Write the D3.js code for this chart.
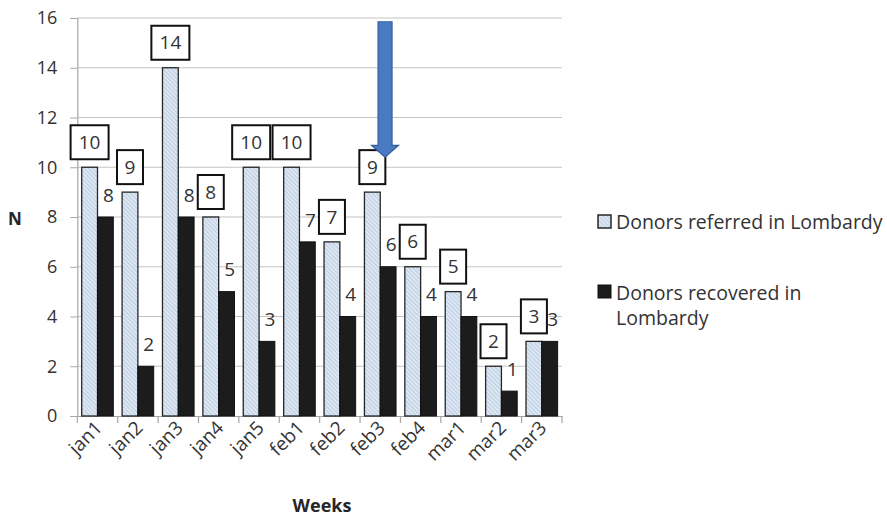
<!DOCTYPE html>
<html><head><meta charset="utf-8">
<script src="https://cdn.jsdelivr.net/npm/d3@7"></script>
<style>
html,body{margin:0;padding:0;background:#fff;}
svg{display:block;font-family:"Open Sans",sans-serif;}
</style></head>
<body>
<svg id="c" width="887" height="519"></svg>
<script>
const weeks = ["jan1","jan2","jan3","jan4","jan5","feb1","feb2","feb3","feb4","mar1","mar2","mar3"];
const referred = [10,9,14,8,10,10,7,9,6,5,2,3];
const recovered = [8,2,8,5,3,7,4,6,4,4,1,3];
const yTicks = [0,2,4,6,8,10,12,14,16];
const seriesNames = ["Donors referred in Lombardy","Donors recovered in Lombardy"];
const arrowWeek = "feb3", arrowTop = 15.85, arrowTip = 10.4;

const svg = d3.select("#c");
const defs = svg.append("defs");
const pat = defs.append("pattern").attr("id","hatch").attr("patternUnits","userSpaceOnUse")
  .attr("width",3).attr("height",3).attr("patternTransform","rotate(-45)");
pat.append("rect").attr("width",3).attr("height",3).attr("fill","#dde7f3");
pat.append("line").attr("x1",0).attr("y1",0).attr("x2",0).attr("y2",3).attr("stroke","#a3b7d2").attr("stroke-width",1.1);

const x = d3.scaleBand().domain(weeks).range([77.3,562]).padding(0);
const xs = d3.scaleBand().domain(["ref","rec"]).range([4.4,36]);
const y = d3.scaleLinear().domain([0,16]).range([416,18]);

// gridlines
svg.append("g").selectAll("line").data(yTicks.filter(d=>d>0)).join("line")
  .attr("x1",77.3).attr("x2",562).attr("y1",d=>y(d)).attr("y2",d=>y(d))
  .attr("stroke","#c4c4c4").attr("stroke-width",1.2);

// y axis
const ya = svg.append("g").attr("transform","translate(77.3,0)")
  .call(d3.axisLeft(y).tickValues(yTicks).tickSize(7).tickPadding(13).tickFormat(d3.format("d")));
ya.select(".domain").attr("stroke","#a6a6a6").attr("stroke-width",1.2);
ya.selectAll(".tick line").attr("stroke","#a6a6a6");
ya.selectAll(".tick text").attr("font-size",18).attr("fill","#333").attr("font-family","Open Sans");

// x axis
const xa = svg.append("g").attr("transform","translate(0,416)")
  .call(d3.axisBottom(x).tickSize(0).tickFormat(""));
xa.select(".domain").attr("stroke","#a6a6a6").attr("stroke-width",1.2);
const bounds = weeks.map(w=>x(w)).concat([x.range()[1]]);
svg.append("g").selectAll("line").data(bounds).join("line")
  .attr("x1",d=>d).attr("x2",d=>d).attr("y1",416).attr("y2",423)
  .attr("stroke","#a6a6a6").attr("stroke-width",1.2);
svg.append("g").selectAll("text").data(weeks).join("text")
  .attr("transform",w=>`translate(${x(w)+x.bandwidth()/2+6},${429}) rotate(-45)`)
  .attr("text-anchor","end").attr("font-size",19).attr("fill","#333").text(d=>d);

// bars
const g = svg.append("g");
g.selectAll("rect.ref").data(weeks).join("rect").attr("class","ref")
  .attr("x",(w)=>x(w)+xs("ref")).attr("width",xs.bandwidth())
  .attr("y",(w,i)=>y(referred[i])).attr("height",(w,i)=>y(0)-y(referred[i]))
  .attr("fill","url(#hatch)").attr("stroke","#262626").attr("stroke-width",1.3);
g.selectAll("rect.rec").data(weeks).join("rect").attr("class","rec")
  .attr("x",(w)=>x(w)+xs("rec")).attr("width",xs.bandwidth())
  .attr("y",(w,i)=>y(recovered[i])).attr("height",(w,i)=>y(0)-y(recovered[i]))
  .attr("fill","#1c1c1c").attr("stroke","#111").attr("stroke-width",1);

// recovered labels
svg.append("g").selectAll("text").data(weeks).join("text")
  .attr("x",(w)=>x(w)+xs("rec")+xs.bandwidth()/2+3)
  .attr("y",(w,i)=>y(recovered[i])-22)
  .attr("dy","0.35em").attr("text-anchor","middle")
  .attr("font-size",19).attr("fill","#333").text((w,i)=>recovered[i]);

// referred labels in boxes
const lb = svg.append("g").selectAll("g").data(weeks).join("g")
  .attr("transform",(w,i)=>`translate(${x(w)+xs("ref")+xs.bandwidth()/2},${y(referred[i])-25})`);
lb.append("rect")
  .attr("x",(w,i)=>String(referred[i]).length>1?-19:-13)
  .attr("width",(w,i)=>String(referred[i]).length>1?38:26)
  .attr("y",-17).attr("height",34)
  .attr("fill","#fff").attr("stroke","#111").attr("stroke-width",2);
lb.append("text").attr("text-anchor","middle").attr("dy","0.35em")
  .attr("font-size",19).attr("fill","#333").text((w,i)=>referred[i]);

// arrow
const ax = x(arrowWeek)+25, yt = y(arrowTop), ytip = y(arrowTip), yh = ytip-12;
svg.append("path")
  .attr("d",`M${ax-7},${yt} L${ax+7},${yt} L${ax+7},${yh} L${ax+13.5},${yh} L${ax},${ytip} L${ax-13.5},${yh} L${ax-7},${yh} Z`)
  .attr("fill","#4a7bc2").attr("stroke","#345f9e").attr("stroke-width",1.2);

// axis titles
svg.append("text").attr("x",15).attr("y",225).attr("text-anchor","middle")
  .attr("font-size",17).attr("font-weight","bold").attr("fill","#262626").text("N");
svg.append("text").attr("x",322).attr("y",512).attr("text-anchor","middle")
  .attr("font-size",18).attr("font-weight","bold").attr("fill","#262626").text("Weeks");

// legend
const lg = svg.append("g");
lg.append("rect").attr("x",598).attr("y",215).attr("width",13).attr("height",13)
  .attr("fill","url(#hatch)").attr("stroke","#262626").attr("stroke-width",1.5);
lg.append("text").attr("x",616).attr("y",229).attr("font-size",19.5).attr("fill","#333").text(seriesNames[0]);
lg.append("rect").attr("x",598).attr("y",285).attr("width",13).attr("height",13)
  .attr("fill","#1c1c1c").attr("stroke","#111");
const t2 = lg.append("text").attr("x",616).attr("y",300).attr("font-size",19.5).attr("fill","#333");
const parts = seriesNames[1].split(" ");
t2.append("tspan").attr("x",616).text(parts.slice(0,3).join(" "));
t2.append("tspan").attr("x",616).attr("dy",25).text(parts.slice(3).join(" "));
</script>
</body></html>
